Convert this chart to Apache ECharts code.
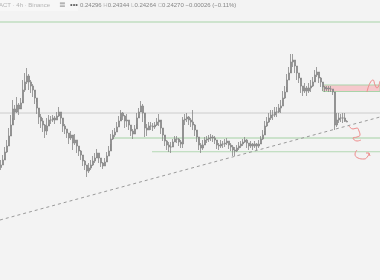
<!DOCTYPE html>
<html><head><meta charset="utf-8">
<script src="https://cdn.jsdelivr.net/npm/echarts@6/dist/echarts.min.js"></script>
<style>html,body{margin:0;padding:0;background:#f3f3f3}#c{width:380px;height:280px}</style>
</head><body><div id="c"></div>
<script>
// ACT · 4h · Binance — closes / highs / lows
const firstOpen = 0.2245;
const closes = [
0.2255,0.2275,0.2307,0.2331,0.2371,0.2415,0.2479,0.2467,0.2495,0.2479,
0.2503,0.2555,0.2587,0.2611,0.2587,0.2571,0.2555,0.2523,0.2483,0.2447,
0.2431,0.2415,0.2391,0.2411,0.2435,0.2435,0.2443,0.2435,0.2451,0.2467,
0.2443,0.2411,0.2399,0.2383,0.2363,0.2375,0.2343,0.2355,0.2331,0.2311,
0.2295,0.2271,0.2255,0.2231,0.2243,0.2255,0.2271,0.2283,0.2303,0.2283,
0.2263,0.2251,0.2267,0.2291,0.2311,0.2359,0.2375,0.2387,0.2407,0.2431,
0.2463,0.2451,0.2431,0.2435,0.2415,0.2391,0.2379,0.2399,0.2443,0.2467,
0.2491,0.2463,0.2403,0.2395,0.2411,0.2411,0.2407,0.2415,0.2427,0.2435,
0.2403,0.2375,0.2351,0.2335,0.2327,0.2327,0.2347,0.2359,0.2359,0.2347,
0.2339,0.2435,0.2439,0.2447,0.2435,0.2427,0.2415,0.2395,0.2367,0.2335,
0.2323,0.2335,0.2355,0.2359,0.2363,0.2367,0.2363,0.2355,0.2335,0.2331,
0.2339,0.2339,0.2343,0.2351,0.2335,0.2327,0.2315,0.2311,0.2323,0.2331,
0.2339,0.2347,0.2355,0.2343,0.2331,0.2339,0.2331,0.2339,0.2331,0.2339,
0.2359,0.2375,0.2411,0.2427,0.2443,0.2455,0.2455,0.2467,0.2467,0.2483,
0.2491,0.2523,0.2547,0.2595,0.2623,0.2667,0.2675,0.2651,0.2623,0.2603,
0.2571,0.2551,0.2563,0.2551,0.2563,0.2571,0.2587,0.2615,0.2627,0.2603,
0.2587,0.2567,0.2559,0.2563,0.2559,0.2559,0.2547,0.2415,0.2435,0.2443,
0.2443,0.2443,0.24296,0.24270
];
const highs = [
0.2275,0.2295,0.2327,0.2355,0.2403,0.2455,0.2515,0.2495,0.2527,0.2503,
0.2523,0.2595,0.2623,0.2643,0.2619,0.2595,0.2579,0.2547,0.2507,0.2475,
0.2459,0.2443,0.2419,0.2443,0.2455,0.2451,0.2455,0.2451,0.2467,0.2487,
0.2467,0.2435,0.2419,0.2399,0.2383,0.2391,0.2371,0.2379,0.2355,0.2331,
0.2315,0.2291,0.2275,0.2251,0.2263,0.2275,0.2291,0.2303,0.2319,0.2303,
0.2279,0.2267,0.2283,0.2307,0.2331,0.2379,0.2395,0.2403,0.2427,0.2451,
0.2475,0.2467,0.2455,0.2459,0.2435,0.2411,0.2399,0.2415,0.2463,0.2483,
0.2511,0.2499,0.2443,0.2419,0.2427,0.2427,0.2423,0.2427,0.2443,0.2459,
0.2427,0.2395,0.2367,0.2355,0.2347,0.2347,0.2359,0.2371,0.2371,0.2363,
0.2355,0.2447,0.2459,0.2463,0.2451,0.2443,0.2475,0.2419,0.2387,0.2355,
0.2343,0.2355,0.2367,0.2371,0.2375,0.2379,0.2375,0.2371,0.2351,0.2343,
0.2355,0.2351,0.2359,0.2363,0.2351,0.2343,0.2335,0.2327,0.2335,0.2347,
0.2351,0.2359,0.2367,0.2359,0.2343,0.2351,0.2343,0.2351,0.2343,0.2355,
0.2371,0.2395,0.2431,0.2447,0.2463,0.2475,0.2475,0.2487,0.2487,0.2499,
0.2515,0.2551,0.2571,0.2619,0.2647,0.2699,0.2699,0.2675,0.2647,0.2623,
0.2595,0.2571,0.2583,0.2571,0.2583,0.2595,0.2607,0.2635,0.2647,0.2623,
0.2607,0.2583,0.2571,0.2571,0.2571,0.2571,0.2559,0.2543,0.2463,0.2463,
0.2459,0.2463,0.2463,0.24344
];
const lows = [
0.2235,0.2255,0.2283,0.2303,0.2335,0.2375,0.2443,0.2435,0.2463,0.2455,
0.2483,0.2515,0.2547,0.2579,0.2555,0.2543,0.2527,0.2499,0.2459,0.2419,
0.2403,0.2387,0.2363,0.2375,0.2419,0.2419,0.2427,0.2419,0.2435,0.2447,
0.2419,0.2387,0.2379,0.2363,0.2339,0.2355,0.2315,0.2335,0.2303,0.2291,
0.2275,0.2251,0.2235,0.2207,0.2223,0.2235,0.2251,0.2263,0.2287,0.2263,
0.2247,0.2239,0.2251,0.2275,0.2291,0.2339,0.2355,0.2367,0.2387,0.2407,
0.2447,0.2435,0.2403,0.2407,0.2395,0.2371,0.2359,0.2383,0.2419,0.2451,
0.2471,0.2427,0.2367,0.2371,0.2395,0.2395,0.2391,0.2399,0.2411,0.2411,
0.2379,0.2351,0.2331,0.2315,0.2307,0.2303,0.2331,0.2347,0.2343,0.2331,
0.2323,0.2323,0.2415,0.2427,0.2415,0.2407,0.2395,0.2371,0.2347,0.2315,
0.2303,0.2315,0.2339,0.2343,0.2347,0.2351,0.2347,0.2339,0.2319,0.2315,
0.2323,0.2323,0.2327,0.2335,0.2319,0.2311,0.2291,0.2291,0.2307,0.2315,
0.2323,0.2331,0.2343,0.2323,0.2315,0.2323,0.2315,0.2323,0.2315,0.2323,
0.2343,0.2355,0.2391,0.2407,0.2423,0.2435,0.2435,0.2447,0.2447,0.2463,
0.2463,0.2491,0.2519,0.2567,0.2595,0.2635,0.2647,0.2623,0.2595,0.2583,
0.2543,0.2531,0.2543,0.2531,0.2543,0.2547,0.2567,0.2595,0.2607,0.2583,
0.2567,0.2551,0.2547,0.2551,0.2547,0.2547,0.2535,0.2395,0.2407,0.2423,
0.2427,0.2423,0.2427,0.24264
];
const slotCount = 190; // bars incl. empty space on the right
// drawn levels (price)
const topLevel = 0.2827;
const midLevel = 0.2463;
const support1 = 0.2363, support1Start = 56;
const support2 = 0.2308, support2Start = 75.5;
const zoneTop = 0.2575, zoneBottom = 0.2549, zoneStart = 161;
const trendLine = [[-0.5, 0.2035], [189.5, 0.2447]];
// hand-drawn red arrows (bar index, price)
const arrowUp = [[183,0.2547],[184.5,0.2583],[186,0.2595],[187,0.2575],[188,0.2563],[189.5,0.2591]];
const arrowMid = [[174,0.2411],[176,0.2399],[178,0.2403],[179,0.2391],[179.5,0.2375],[178,0.2367],[176,0.2363],[178,0.2351],[180,0.2355]];
const arrowLow = [[178,0.2315],[177,0.2299],[178.5,0.2283],[181.5,0.2279],[183.5,0.2291],[184,0.2303]];
const arrowLowHead = [[182.5,0.2303],[184,0.2303],[184.5,0.2291]];

const header = {
  name: 'ACT · 4h · Binance',
  o: '0.24296', h: '0.24344', l: '0.24264', c: '0.24270',
  chg: '−0.00026 (−0.11%)'
};

const slots = [];
for (let i = 0; i < slotCount; i++) slots.push(String(i + 1));
const candles = closes.map((c, i) => [i === 0 ? firstOpen : closes[i - 1], c, lows[i], highs[i]]);
const xr = 189.5;
function level(v, start, color, width) {
  return {type:'line', xAxisIndex:1, data:[[start, v],[xr, v]], symbol:'none', silent:true,
    lineStyle:{color:color, width:width}, z:1};
}
function scribble(d) {
  return {type:'line', xAxisIndex:1, data:d, symbol:'none', smooth:true, silent:true,
    lineStyle:{color:'#ef8c8c', width:1}, z:5};
}
const chart = echarts.init(document.getElementById('c'));
chart.setOption({
  backgroundColor:'#f3f3f3',
  animation:false,
  grid:{left:0,right:0,top:0,bottom:0},
  xAxis:[{type:'category', data:slots, show:false, boundaryGap:true},
         {type:'value', min:-0.5, max:xr, show:false}],
  yAxis:{type:'value', min:0.1795, max:0.2915, show:false},
  series:[
    level(topLevel, -0.5, '#cde3cd', 2),
    level(midLevel, -0.5, '#cccccc', 1),
    Object.assign(level(support1, support1Start, '#a3d0a3', 1), {
      markArea:{silent:true, itemStyle:{color:'#f6c8cc', borderColor:'#a9d3a9', borderWidth:1},
        data:[[{coord:[zoneStart, zoneTop]},{coord:[xr, zoneBottom]}]]}
    }),
    level(support2, support2Start, '#b3d8b3', 1),
    {type:'line', xAxisIndex:1, data:trendLine, symbol:'none', silent:true,
      lineStyle:{color:'#9a9a9a', width:1, type:[3,3]}, z:2},
    {type:'candlestick', xAxisIndex:0, data:candles, barWidth:1.6, silent:true, z:3,
      itemStyle:{color:'#9a9a9a', color0:'#9a9a9a', borderColor:'#868686', borderColor0:'#868686', borderWidth:0.8}},
    scribble(arrowUp), scribble(arrowMid), scribble(arrowLow),
    Object.assign(scribble(arrowLowHead), {smooth:false})
  ],
  graphic:[
    {type:'rect', left:0, top:0, shape:{width:78, height:11}, style:{fill:'#f7f7f7'}, silent:true},
    {type:'text', left:-1, top:2, style:{text:header.name, fill:'#b4b4b4', font:'6px "Liberation Sans"'}},
    {type:'text', left:59, top:1, style:{text:'≣', fill:'#a0a0a0', font:'8px "DejaVu Sans"'}},
    {type:'text', left:70, top:1, style:{text:'•••', fill:'#606060', font:'7.5px "Liberation Sans"'}},
    {type:'text', left:80, top:2, style:{
      text:header.o + ' {k|H}' + header.h + ' {k|L}' + header.l + ' {k|C}' + header.c + ' ' + header.chg,
      fill:'#868686', font:'6px "Liberation Sans"',
      rich:{k:{fill:'#bdbdbd', font:'6px "Liberation Sans"'}}}}
  ]
});
</script></body></html>
